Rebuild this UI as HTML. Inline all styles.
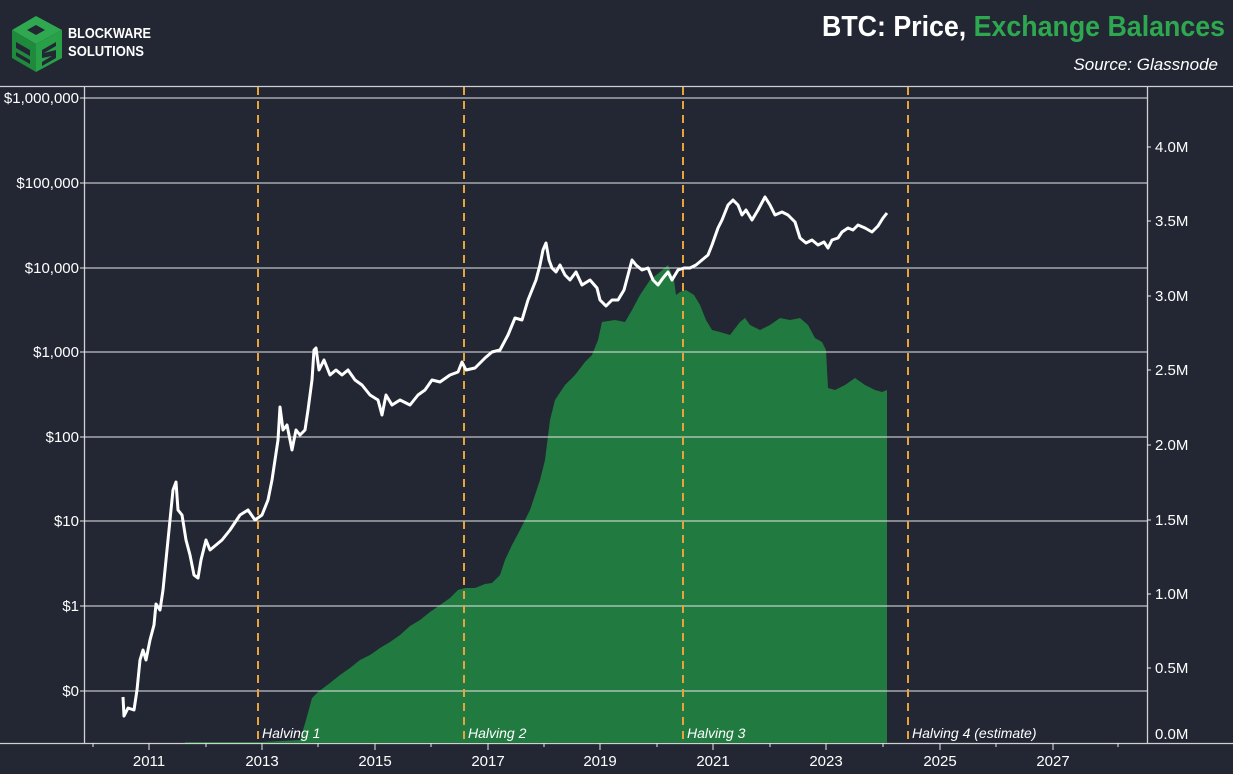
<!DOCTYPE html>
<html><head><meta charset="utf-8"><style>
html,body{margin:0;padding:0;background:#222733;}
svg{display:block;font-family:"Liberation Sans",sans-serif;}
</style></head><body>
<svg width="1233" height="774" viewBox="0 0 1233 774" xmlns="http://www.w3.org/2000/svg">
<rect width="1233" height="774" fill="#222733"/>
<!-- logo -->
<g>
<polygon points="12,30 36,16 62,30 36,44" fill="#2fa84f"/>
<polygon points="12,30 36,44 36,72 12,58" fill="#1f8a3c"/>
<polygon points="36,44 62,30 62,58 36,72" fill="#27a047"/>
<polygon points="27,30 36,25 45,30 36,35" fill="#222733"/>
<path d="M16,42 L30,50 L30,56 L16,48 Z M16,52 L30,60 L30,64 L16,56Z" fill="#222733"/>
<path d="M42,50 L56,42 L56,46 L44,53 L56,50 L56,58 L42,66 L42,62 L52,56 L42,58Z" fill="#222733"/>
<text x="68" y="38" fill="#fff" font-weight="bold" font-size="15" textLength="83" lengthAdjust="spacingAndGlyphs">BLOCKWARE</text>
<text x="68" y="56" fill="#fff" font-weight="bold" font-size="15" textLength="76" lengthAdjust="spacingAndGlyphs">SOLUTIONS</text>
</g>
<!-- title -->
<text x="822" y="36" font-size="29" font-weight="bold" textLength="403" lengthAdjust="spacingAndGlyphs"><tspan fill="#fff">BTC: Price, </tspan><tspan fill="#2ea84f">Exchange Balances</tspan></text>
<text x="1218" y="70" fill="#fff" font-size="17" font-style="italic" text-anchor="end">Source: Glassnode</text>

<!-- frame lines -->
<line x1="0" y1="86.5" x2="1233" y2="86.5" stroke="#d0d0d0" stroke-width="1.3"/>
<line x1="0" y1="743.5" x2="1233" y2="743.5" stroke="#d0d0d0" stroke-width="1.3"/>
<line x1="84.5" y1="86" x2="84.5" y2="743" stroke="#d0d0d0" stroke-width="1.3"/>
<line x1="1147.5" y1="86" x2="1147.5" y2="743" stroke="#d0d0d0" stroke-width="1.3"/>

<!-- green area -->
<polygon fill="#217a3f" points="185,743 185,742 262,742 300,740 306,720 312,698 318,692 330,683 340,675 350,668 360,660 370,655 380,648 390,642 400,635 410,626 420,620 430,612 440,605 450,598 458,590 465,588 475,588 485,584 492,583 500,575 505,560 512,545 520,530 530,510 540,480 545,460 550,420 555,400 565,385 575,375 585,362 592,355 598,340 602,322 615,320 625,322 632,310 640,295 650,280 660,272 668,265 674,280 676,295 680,292 686,290 694,295 700,305 706,320 712,330 720,332 730,335 740,322 745,318 750,325 760,330 770,325 780,318 790,320 800,318 808,325 815,338 822,342 826,350 828,388 835,390 845,385 855,378 865,385 875,390 882,392 887,390 887,743"/>

<!-- gridlines -->
<g stroke="#e8e8e8" stroke-width="1.1">
<line x1="80" y1="98" x2="1147" y2="98"/>
<line x1="80" y1="183" x2="1147" y2="183"/>
<line x1="80" y1="268" x2="1147" y2="268"/>
<line x1="80" y1="352" x2="1147" y2="352"/>
<line x1="80" y1="437" x2="1147" y2="437"/>
<line x1="80" y1="521" x2="1147" y2="521"/>
<line x1="80" y1="606" x2="1147" y2="606"/>
<line x1="80" y1="691" x2="1147" y2="691"/>
</g>
<!-- right ticks -->
<g stroke="#e8e8e8" stroke-width="1">
<line x1="1147" y1="147" x2="1151" y2="147"/><line x1="1147" y1="221" x2="1151" y2="221"/>
<line x1="1147" y1="296" x2="1151" y2="296"/><line x1="1147" y1="370" x2="1151" y2="370"/>
<line x1="1147" y1="445" x2="1151" y2="445"/><line x1="1147" y1="520" x2="1151" y2="520"/>
<line x1="1147" y1="594" x2="1151" y2="594"/><line x1="1147" y1="668" x2="1151" y2="668"/>
</g>
<!-- x ticks -->
<g stroke="#e8e8e8" stroke-width="1">
<line x1="149" y1="743" x2="149" y2="750"/><line x1="262" y1="743" x2="262" y2="750"/>
<line x1="375" y1="743" x2="375" y2="750"/><line x1="488" y1="743" x2="488" y2="750"/>
<line x1="600" y1="743" x2="600" y2="750"/><line x1="713" y1="743" x2="713" y2="750"/>
<line x1="826" y1="743" x2="826" y2="750"/><line x1="940" y1="743" x2="940" y2="750"/>
<line x1="1053" y1="743" x2="1053" y2="750"/>
<line x1="93" y1="743" x2="93" y2="747"/><line x1="206" y1="743" x2="206" y2="747"/>
<line x1="318" y1="743" x2="318" y2="747"/><line x1="431" y1="743" x2="431" y2="747"/>
<line x1="544" y1="743" x2="544" y2="747"/><line x1="657" y1="743" x2="657" y2="747"/>
<line x1="770" y1="743" x2="770" y2="747"/><line x1="883" y1="743" x2="883" y2="747"/>
<line x1="996" y1="743" x2="996" y2="747"/><line x1="1118" y1="743" x2="1118" y2="747"/>
</g>

<!-- halving lines -->
<g stroke="#e8a33a" stroke-width="2" stroke-dasharray="8,6">
<line x1="258" y1="87" x2="258" y2="743"/>
<line x1="464" y1="87" x2="464" y2="743"/>
<line x1="683" y1="87" x2="683" y2="743"/>
<line x1="908" y1="87" x2="908" y2="743"/>
</g>
<g fill="#fff" font-size="14" font-style="italic">
<text x="262" y="738">Halving 1</text>
<text x="468" y="738">Halving 2</text>
<text x="687" y="738">Halving 3</text>
<text x="912" y="738">Halving 4 (estimate)</text>
</g>

<!-- price line -->
<polyline fill="none" stroke="#fff" stroke-width="3" stroke-linejoin="round" points="123,697 124,716 128,708 134,710 137,690 140,660 143,650 146,660 150,640 154,625 156,604 160,610 163,590 166,560 170,520 173,490 176,482 178,510 182,515 186,540 190,555 194,575 198,578 201,560 206,540 210,550 216,545 222,540 230,530 240,515 248,510 255,520 262,515 268,500 272,480 275,460 278,440 280,407 283,430 287,425 292,450 296,430 300,435 305,430 308,410 312,380 314,350 316,348 319,370 324,360 330,375 336,370 342,375 348,370 355,380 362,385 370,395 378,400 382,415 386,395 392,405 400,400 410,405 418,395 425,390 432,380 440,382 450,375 458,372 462,362 466,370 475,368 485,358 492,352 500,350 508,335 515,318 522,320 528,300 536,280 540,265 543,250 546,243 549,260 552,268 556,272 560,265 565,275 570,280 576,272 582,285 590,280 597,288 600,300 606,306 612,300 618,300 624,290 628,275 632,260 636,265 642,270 648,268 653,280 658,285 663,278 668,272 672,280 678,270 684,268 690,268 696,265 702,260 708,255 712,245 718,228 722,220 728,205 733,200 738,205 742,215 746,210 752,220 758,210 765,197 770,205 775,215 782,212 788,215 795,222 800,238 806,243 812,240 818,245 824,242 828,248 832,240 838,238 842,232 848,228 853,230 858,225 865,228 872,232 878,226 883,218 887,213"/>

<!-- left labels -->
<g fill="#fff" font-size="15" text-anchor="end">
<text x="79" y="103">$1,000,000</text>
<text x="79" y="188">$100,000</text>
<text x="79" y="273">$10,000</text>
<text x="79" y="357">$1,000</text>
<text x="79" y="442">$100</text>
<text x="79" y="526">$10</text>
<text x="79" y="611">$1</text>
<text x="79" y="696">$0</text>
</g>
<!-- right labels -->
<g fill="#fff" font-size="15">
<text x="1155" y="152">4.0M</text>
<text x="1155" y="226">3.5M</text>
<text x="1155" y="301">3.0M</text>
<text x="1155" y="375">2.5M</text>
<text x="1155" y="450">2.0M</text>
<text x="1155" y="525">1.5M</text>
<text x="1155" y="599">1.0M</text>
<text x="1155" y="673">0.5M</text>
<text x="1155" y="739">0.0M</text>
</g>
<!-- x labels -->
<g fill="#fff" font-size="15" text-anchor="middle">
<text x="149" y="766">2011</text><text x="262" y="766">2013</text>
<text x="375" y="766">2015</text><text x="488" y="766">2017</text>
<text x="600" y="766">2019</text><text x="713" y="766">2021</text>
<text x="826" y="766">2023</text><text x="940" y="766">2025</text>
<text x="1053" y="766">2027</text>
</g>
</svg>
</body></html>
